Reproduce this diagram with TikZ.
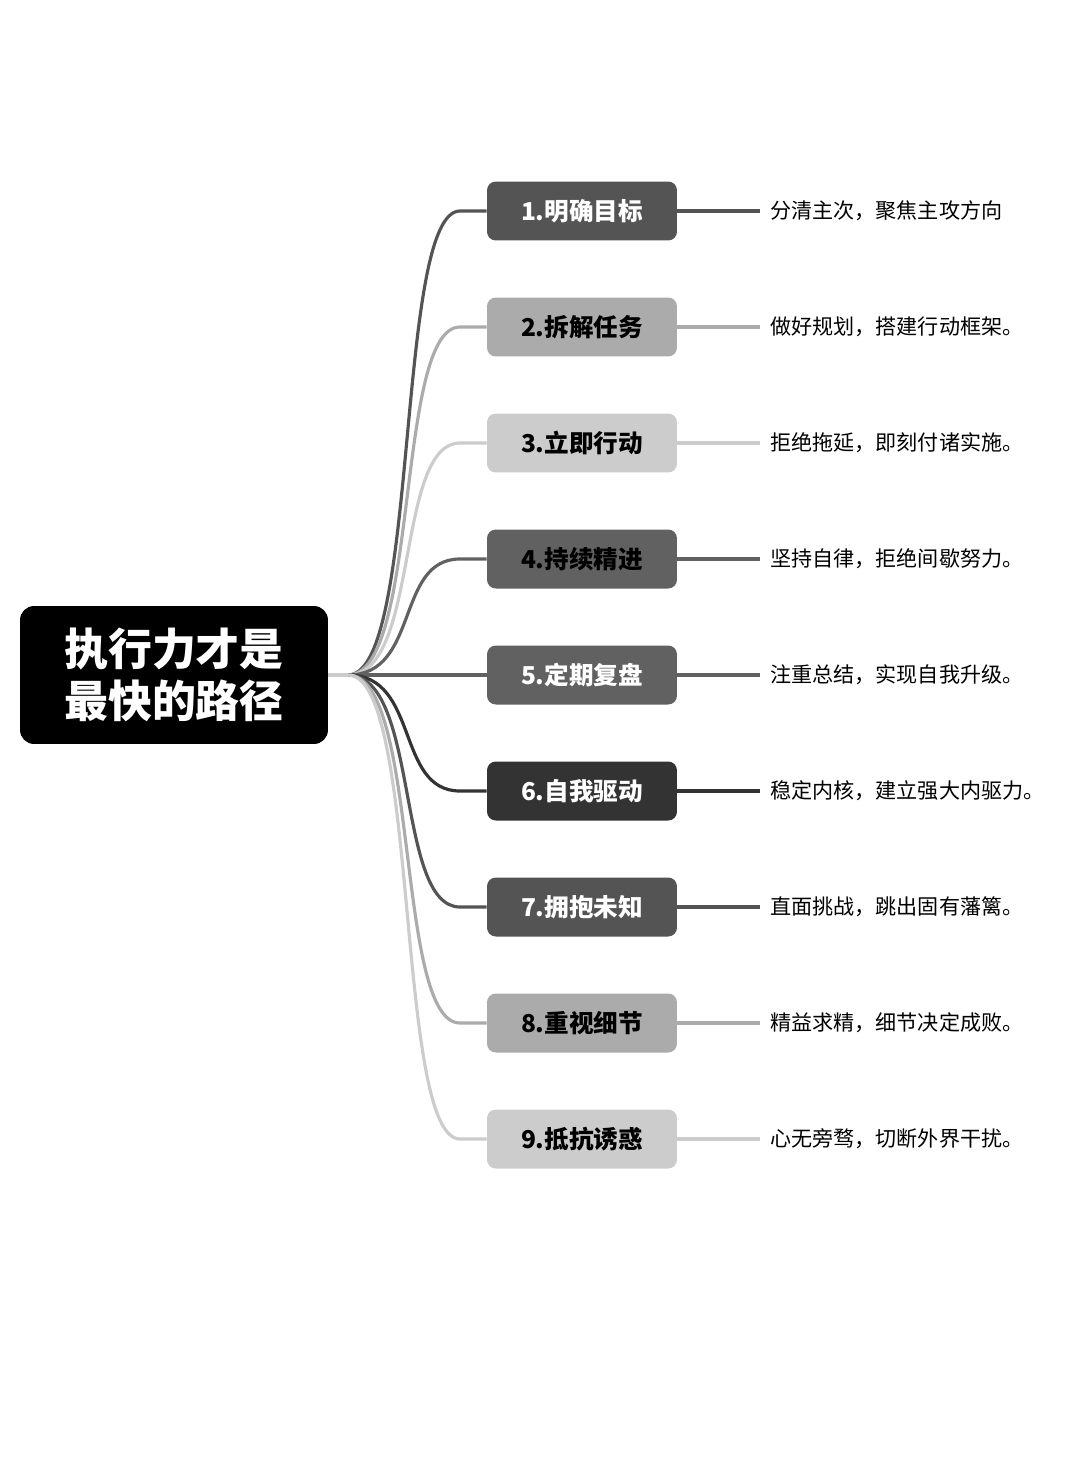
\documentclass[tikz,border=0pt]{standalone}
\usepackage{fontspec}
\setmainfont{Noto Sans CJK SC}
\tikzset{
  px/.style={x=0.02cm,y=-0.02cm},
  rootbox/.style={fill=black,rounded corners=8pt,text=white,font=\bfseries\fontsize{25}{30}\selectfont,
    minimum width=6.16cm,minimum height=2.76cm,align=left,inner sep=0pt},
  itembox/.style={rounded corners=5pt,minimum width=3.8cm,minimum height=1.18cm,
    font=\bfseries\fontsize{14}{16}\selectfont,inner sep=0pt},
  desc/.style={anchor=west,font=\fontsize{12}{14}\selectfont,inner sep=0pt},
}
\begin{document}
\begin{tikzpicture}[px]
\useasboundingbox[fill=white] (0,0) rectangle (1080,1477);
\node[rootbox] (root) at (174,675) {执行力才是\\最快的路径};
\coordinate (hub) at (348,675);
\foreach \i/\y/\bg/\fg/\lbl/\txt in {
  1/211/black!67/white/1.明确目标/分清主次，聚焦主攻方向,
  2/327/black!33/black/2.拆解任务/做好规划，搭建行动框架。,
  3/443/black!20/black/3.立即行动/拒绝拖延，即刻付诸实施。,
  4/559/black!62/black/4.持续精进/坚持自律，拒绝间歇努力。,
  5/675/black!62/white/5.定期复盘/注重总结，实现自我升级。,
  6/791/black!80/white/6.自我驱动/稳定内核，建立强大内驱力。,
  7/907/black!67/white/7.拥抱未知/直面挑战，跳出固有藩篱。,
  8/1023/black!33/black/8.重视细节/精益求精，细节决定成败。,
  9/1139/black!20/black/9.抵抗诱惑/心无旁骛，切断外界干扰。} {
  \node[itembox,fill=\bg,text=\fg] (b\i) at (582,\y) {\lbl};
  \node[desc] (d\i) at (770,\y) {\txt};
  \coordinate (e\i) at (760,\y);
  \draw[\bg,line width=1.8pt] (hub) .. controls (420,675) and (395,\y) .. (460,\y) -- (b\i.west);
  \draw[\bg,line width=1.8pt] (b\i.east) -- (e\i);
}
\draw[black!20,line width=1.8pt] (root.east) -- (hub);
\end{tikzpicture}
\end{document}
